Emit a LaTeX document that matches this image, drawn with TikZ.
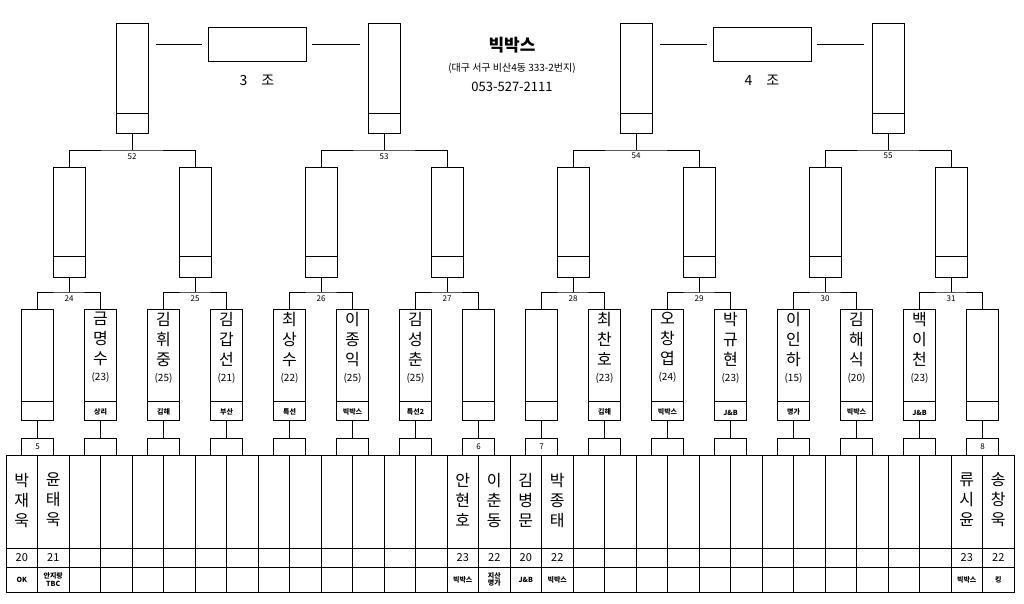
\documentclass[tikz,border=0pt]{standalone}
\usepackage{fontspec}
\setmainfont{Noto Sans CJK KR}
\usetikzlibrary{positioning}
\tikzset{
  box/.style={draw, thick, minimum width=32pt, inner sep=0pt},
  playerbox/.style={box, minimum height=111pt},
  seedbox/.style={box, minimum height=17pt},
  wire/.style={thick},
  vname/.style={align=center, inner sep=0pt, font=\fontsize{16}{20}\selectfont},
  tag/.style={inner sep=0pt, font=\bfseries\fontsize{7}{8}\selectfont},
  num/.style={inner sep=0pt, font=\fontsize{8}{9}\selectfont}
}
\newcommand{\colx}[1]{6+31.5*#1}
\begin{document}
\begin{tikzpicture}[x=1pt, y=-1pt]
  \useasboundingbox (0,0) rectangle (1024,603);

  % bottom table
  \draw[wire] (6,455) rectangle (1014,592);
  \draw[wire] (6,548) -- (1014,548);
  \draw[wire] (6,567) -- (1014,567);
  \foreach \i in {1,...,31}
    \draw[wire] ({\colx{\i}},455) -- ({\colx{\i}},592);

  % first round boxes
  \foreach \k in {0,...,15} {
    \pgfmathsetmacro{\cx}{6+31.5*(2*\k+1)}
    \node[seedbox] (s\k) at (\cx,446.5) {};
    \node[playerbox] (p\k) at (\cx,364.5) {};
    \draw[wire] (\cx-16,401) -- (\cx+16,401);
    \draw[wire] (p\k.south) -- (s\k.north);
  }

  % second round boxes
  \foreach \j in {0,...,7} {
    \pgfmathsetmacro{\cx}{6+31.5*(4*\j+2)}
    \node[box, minimum height=110pt] (m\j) at (\cx,222) {};
    \draw[wire] (\cx-16,256) -- (\cx+16,256);
    \coordinate (b\j) at (\cx,292);
    \pgfmathtruncatemacro{\l}{2*\j}
    \pgfmathtruncatemacro{\r}{2*\j+1}
    \draw[wire] (p\l.north) |- (b\j) -| (p\r.north);
    \draw[wire] (b\j) -- (m\j.south);
    \pgfmathtruncatemacro{\n}{24+\j}
    \node[num, below=3pt of b\j] (bn\j) {\n};
  }

  % third round boxes
  \foreach \t in {0,...,3} {
    \pgfmathsetmacro{\cx}{6+31.5*(8*\t+4)}
    \node[box, minimum height=110pt] (t\t) at (\cx,78) {};
    \draw[wire] (\cx-16,113) -- (\cx+16,113);
    \coordinate (c\t) at (\cx,150);
    \pgfmathtruncatemacro{\l}{2*\t}
    \pgfmathtruncatemacro{\r}{2*\t+1}
    \draw[wire] (m\l.north) |- (c\t) -| (m\r.north);
    \draw[wire] (c\t) -- (t\t.south);
    \pgfmathtruncatemacro{\n}{52+\t}
    \node[num, below=3pt of c\t] (cn\t) {\n};
  }

  % group boxes
  \node[box, minimum width=98pt, minimum height=34pt] (g3) at (257,44) {};
  \node[box, minimum width=98pt, minimum height=34pt] (g4) at (762,44) {};
  \draw[wire] ([xshift=8pt]t0.east |- g3) -- ([xshift=-6pt]g3.west);
  \draw[wire] ([xshift=6pt]g3.east) -- ([xshift=-8pt]t1.west |- g3);
  \draw[wire] ([xshift=8pt]t2.east |- g4) -- ([xshift=-6pt]g4.west);
  \draw[wire] ([xshift=6pt]g4.east) -- ([xshift=-8pt]t3.west |- g4);
  \node[font=\fontsize{14}{16}\selectfont, below=10pt of g3] (g3l) {3\quad 조};
  \node[font=\fontsize{14}{16}\selectfont, below=10pt of g4] (g4l) {4\quad 조};

  % title
  \node[font=\bfseries\fontsize{17}{19}\selectfont] (title) at (512,45) {빅박스};
  \node[font=\fontsize{10}{12}\selectfont, below=3pt of title] (addr) {(대구 서구 비산4동 333-2번지)};
  \node[font=\fontsize{13}{15}\selectfont, below=2pt of addr] (tel) {053-527-2111};

  % seed numbers
  \node[num] at (s0) {5};
  \node[num] at (s7) {6};
  \node[num] at (s8) {7};
  \node[num] at (s15) {8};

  % first round players
  \foreach \k/\nm/\age/\club in {1/금\\명\\수/23/상리, 2/김\\휘\\중/25/김해, 3/김\\갑\\선/21/부산,
      4/최\\상\\수/22/특선, 5/이\\종\\익/25/빅박스, 6/김\\성\\춘/25/특선2,
      9/최\\찬\\호/23/김해, 10/오\\창\\엽/24/빅박스, 11/박\\규\\현/23/J\&B,
      12/이\\인\\하/15/명가, 13/김\\해\\식/20/빅박스, 14/백\\이\\천/23/J\&B} {
    \node[vname, below=3pt of p\k.north] (pn\k) {\nm\\[-4pt]{\fontsize{10}{12}\selectfont(\age)}};
    \node[tag, above=5pt of p\k.south] (pc\k) {\club};
  }

  % table players
  \foreach \c/\nm/\age/\club in {0/박\\재\\욱/20/OK, 1/윤\\태\\욱/21/{안지랑\\TBC},
      14/안\\현\\호/23/빅박스, 15/이\\춘\\동/22/{지산\\명가}, 16/김\\병\\문/20/J\&B,
      17/박\\종\\태/22/빅박스, 30/류\\시\\윤/23/빅박스, 31/송\\창\\욱/22/킹} {
    \pgfmathsetmacro{\cx}{6+31.5*\c+15.75}
    \node[vname] (tn\c) at (\cx,500) {\nm};
    \node[font=\fontsize{11}{12}\selectfont, inner sep=0pt] (ta\c) at (\cx,557.5) {\age};
    \node[tag, align=center, font=\bfseries\fontsize{7}{7.5}\selectfont] (tc\c) at (\cx,579.5) {\club};
  }
\end{tikzpicture}
\end{document}
